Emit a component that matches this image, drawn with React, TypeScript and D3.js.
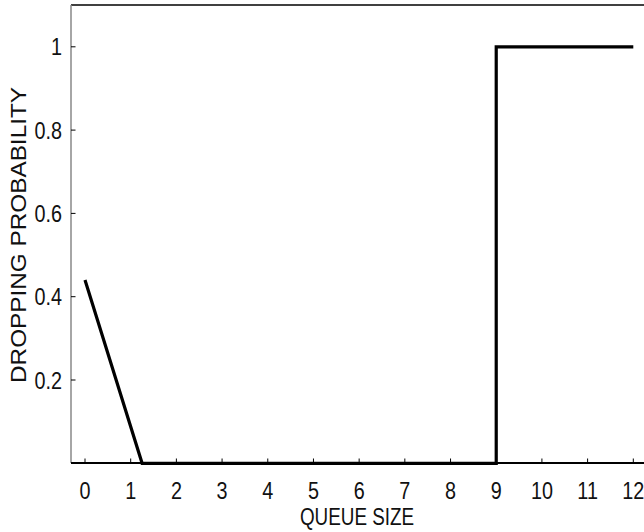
import React from "react";
import * as d3 from "d3";

const queueSize = [0, 1.25, 9, 9, 12];
const dropProb = [0.44, 0, 0, 1, 1];
const xTicks = [0, 1, 2, 3, 4, 5, 6, 7, 8, 9, 10, 11, 12];
const yTicks = [0.2, 0.4, 0.6, 0.8, 1];
const xTitle = "QUEUE SIZE";
const yTitle = "DROPPING PROBABILITY";

const W = 644;
const H = 532;
const left = 71;
const right = 644;
const top = 5;
const bottom = 463;

export default function App() {
  const x = d3.scaleLinear().domain([0, 12]).range([85, 633.3]);
  const y = d3.scaleLinear().domain([0, 1]).range([463.3, 46.8]);
  const pts = queueSize.map((q, i) => [q, dropProb[i]] as [number, number]);
  const line = d3
    .line<[number, number]>()
    .x((d) => x(d[0]))
    .y((d) => y(d[1]));
  const font = "'Liberation Sans', Arial, Helvetica, sans-serif";
  const fmt = d3.format("~g");
  return (
    <svg
      width={W}
      height={H}
      style={{ position: "absolute", left: 0, top: 0, background: "#fff" }}
      fontFamily={font}
    >
      <rect x={0} y={0} width={W} height={H} fill="#fff" />
      {/* top border */}
      <line x1={left} x2={right} y1={top} y2={top} stroke="#000" strokeWidth={1.5} />
      {/* y axis */}
      <line x1={left} x2={left} y1={top} y2={bottom} stroke="#888" strokeWidth={1.5} />
      {yTicks.map((t) => (
        <g key={"y" + t}>
          <line x1={left} x2={left + 4.5} y1={y(t)} y2={y(t)} stroke="#000" strokeWidth={1} />
          <g transform={`translate(${62},${y(t) + 8.5}) scale(0.86,1)`}>
            <text textAnchor="end" fontSize={23} fill="#111">
              {fmt(t)}
            </text>
          </g>
        </g>
      ))}
      {/* x axis */}
      {xTicks.map((t) => (
        <g key={"x" + t}>
          <line x1={x(t)} x2={x(t)} y1={bottom} y2={bottom - 4.5} stroke="#000" strokeWidth={1} />
          <g transform={`translate(${x(t)},${499}) scale(0.86,1)`}>
            <text textAnchor="middle" fontSize={23} fill="#111">
              {fmt(t)}
            </text>
          </g>
        </g>
      ))}
      <line x1={left} x2={right} y1={bottom} y2={bottom} stroke="#000" strokeWidth={1.8} />
      {/* data */}
      <path d={line(pts) || ""} fill="none" stroke="#000" strokeWidth={3.2} strokeLinejoin="miter" />
      {/* titles */}
      <g transform={`translate(${357},${525}) scale(0.82,1)`}>
        <text textAnchor="middle" fontSize={23} fill="#111">
          {xTitle}
        </text>
      </g>
      <g transform={`translate(${26},${235}) rotate(-90)`}>
        <text
          textAnchor="middle"
          fontSize={22}
          fill="#111"
          textLength={296}
          lengthAdjust="spacingAndGlyphs"
        >
          {yTitle}
        </text>
      </g>
    </svg>
  );
}
